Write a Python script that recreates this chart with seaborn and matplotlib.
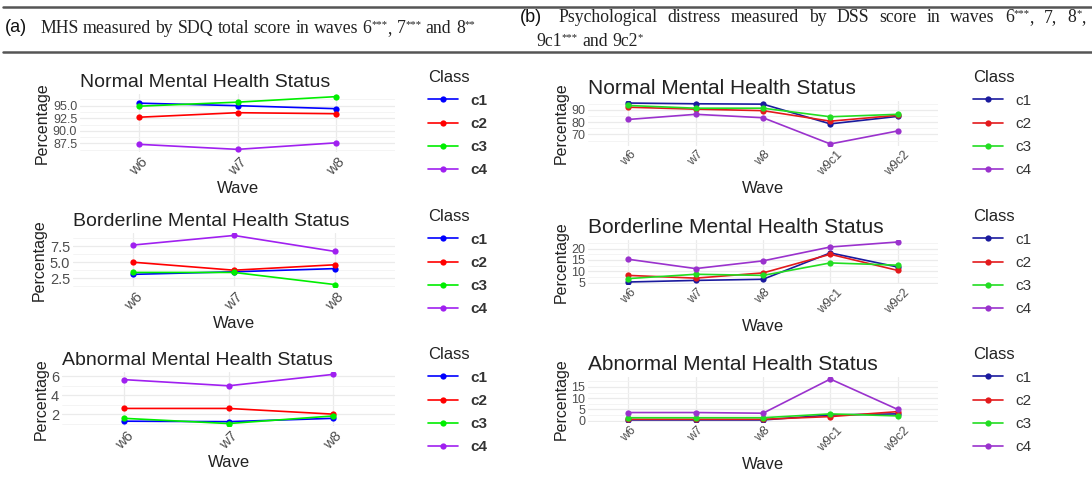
import numpy as np
import pandas as pd
import seaborn as sns
from matplotlib import pyplot as plt
from matplotlib.lines import Line2D
from matplotlib.ticker import AutoMinorLocator, FormatStrFormatter
from matplotlib.transforms import IdentityTransform

# data (percentages)
classes = ["c1", "c2", "c3", "c4"]
waves_a = ["w6", "w7", "w8"]
waves_b = ["w6", "w7", "w8", "w9c1", "w9c2"]

a_normal = [[95.5, 95.0, 94.4], [92.7, 93.6, 93.4], [94.9, 95.7, 96.8], [87.3, 86.3, 87.6]]
a_border = [[3.1, 3.5, 4.0], [5.0, 3.75, 4.6], [3.4, 3.4, 1.5], [7.7, 9.2, 6.7]]
a_abnormal = [[1.25, 1.2, 1.55], [2.6, 2.6, 2.0], [1.55, 1.0, 1.8], [5.65, 5.0, 6.2]]

b_normal = [
    [95.6, 95.0, 94.7, 78.6, 84.7],
    [92.2, 90.6, 89.4, 80.8, 85.6],
    [93.6, 91.4, 91.4, 84.4, 86.4],
    [82.2, 86.4, 83.6, 62.2, 72.8],
]
b_border = [
    [5.3, 6.0, 6.5, 18.1, 11.9],
    [8.2, 7.0, 9.3, 17.5, 10.4],
    [6.8, 8.7, 8.2, 13.7, 12.7],
    [15.3, 11.2, 14.6, 20.7, 22.9],
]
b_abnormal = [
    [0.3, 0.3, 0.3, 2.5, 3.0],
    [0.6, 0.6, 0.6, 1.8, 4.0],
    [1.3, 1.3, 1.3, 3.0, 2.1],
    [3.6, 3.6, 3.3, 18.5, 5.0],
]

titles = ["Normal Mental Health Status", "Borderline Mental Health Status", "Abnormal Mental Health Status"]
ticks_a = [[87.5, 90.0, 92.5, 95.0], [2.5, 5.0, 7.5], [2, 4, 6]]
ticks_b = [[70, 80, 90], [5, 10, 15, 20], [0, 5, 10, 15]]

colors_a = ["#0000ff", "#ff0000", "#00ee00", "#a020f0"]
colors_b = ["#1a1a9e", "#e31a1c", "#22dd22", "#9a32cd"]

W, H = 1092, 493
sns.set_theme(style="white")
plt.rcParams["font.family"] = ["Liberation Sans", "DejaVu Sans"]

fig = plt.figure(figsize=(W / 100, H / 100), dpi=100)
fig.patch.set_facecolor("white")


def px_axes(x0, x1, ytop, ybot):
    return fig.add_axes([x0 / W, 1 - ybot / H, (x1 - x0) / W, (ybot - ytop) / H])


def draw_panel(ax, waves, values, colors, ticks, fmt, title, title_size, tick_size, legend_at, bold):
    df = pd.DataFrame(
        {
            "Wave": waves * len(classes),
            "Percentage": sum(values, []),
            "Class": np.repeat(classes, len(waves)),
        }
    )
    sns.lineplot(
        data=df, x="Wave", y="Percentage", hue="Class", palette=colors,
        marker="o", markersize=4.5, markeredgewidth=0, linewidth=1.2,
        legend=False, sort=False, ax=ax,
    )
    ax.set_xlim(-0.6, len(waves) - 0.4)
    ax.set_yticks(ticks)
    ax.yaxis.set_minor_locator(AutoMinorLocator(2))
    ax.yaxis.set_major_formatter(FormatStrFormatter(fmt))
    ax.grid(which="major", color="#ebebeb", lw=0.9)
    ax.grid(which="minor", axis="y", color="#f3f3f3", lw=0.6)
    ax.set_axisbelow(True)
    for s in ax.spines.values():
        s.set_visible(False)
    ax.tick_params(which="both", length=0, labelsize=10.5 if bold else 9, labelcolor="#4d4d4d", pad=2)
    ax.tick_params(axis="y", labelsize=tick_size)
    for lab in ax.get_xticklabels():
        lab.set_rotation(45)
        lab.set_ha("center")
    ax.set_xlabel("Wave", fontsize=12, color="#222222", labelpad=2)
    ax.set_ylabel("Percentage", fontsize=11.5, color="#222222", labelpad=2)
    ax.set_title(title, loc="left", fontsize=title_size, color="#222222", pad=5)

    handles = [
        Line2D([], [], color=c, marker="o", markersize=4.5, markeredgewidth=0, lw=1.2)
        for c in colors
    ]
    leg = ax.legend(
        handles, classes, title="Class", loc="upper left",
        bbox_to_anchor=(legend_at[0] / W, 1 - legend_at[1] / H),
        bbox_transform=fig.transFigure, frameon=False, fontsize=11,
        title_fontsize=12, handlelength=2.0, handletextpad=0.8,
        labelspacing=0.6, borderpad=0.0, alignment="left",
    )
    leg.get_title().set_color("#222222")
    for t in leg.get_texts():
        t.set_color("#333333")
        if bold:
            t.set_fontweight("bold")


left_boxes = [(80, 395, 94, 152), (73, 395, 233, 287), (62, 395, 372, 426)]
right_boxes = [(588, 938, 101, 146), (588, 938, 240, 284), (588, 938, 377, 422)]
left_legends = [(420, 62), (420, 201), (420, 339)]
right_legends = [(965, 62), (965, 201), (965, 339)]
fmts_a = ["%.1f", "%.1f", "%g"]
ysize_a = [9, 10.5, 10.5]

for i, vals in enumerate([a_normal, a_border, a_abnormal]):
    ax = px_axes(*left_boxes[i])
    draw_panel(ax, waves_a, vals, colors_a, ticks_a[i], fmts_a[i], titles[i], 14, ysize_a[i], left_legends[i], True)

for i, vals in enumerate([b_normal, b_border, b_abnormal]):
    ax = px_axes(*right_boxes[i])
    draw_panel(ax, waves_b, vals, colors_b, ticks_b[i], "%g", titles[i], 15, 9, right_legends[i], False)

# header band
for yy in (7, 52):
    fig.add_artist(Line2D([3 / W, 1], [1 - yy / H, 1 - yy / H], transform=fig.transFigure, color="#555555", lw=1.8))

renderer = fig.canvas.get_renderer()


def header_line(words, x0, y, size, x1=None):
    # words: list of words, each a list of (text, superscript?)
    arts = []
    for word in words:
        pieces = []
        for txt, sup in word:
            t = fig.text(0, 0, txt, transform=IdentityTransform(), fontsize=size * 0.6 if sup else size,
                         family=["Liberation Serif", "DejaVu Serif"], color="#222222", va="baseline")
            pieces.append((t, sup))
        arts.append(pieces)
    widths = [sum(t.get_window_extent(renderer).width for t, _ in w) for w in arts]
    gap = size * 100 / 72 * 0.25
    if x1 is not None:
        gap = (x1 - x0 - sum(widths)) / (len(words) - 1)
    x = x0
    base = H - y
    for pieces, wdt in zip(arts, widths):
        xx = x
        for t, sup in pieces:
            t.set_position((xx, base + (size * 0.45 if sup else 0)))
            xx += t.get_window_extent(renderer).width
        x += wdt + gap


def plain_words(s):
    return [[(w, False)] for w in s.split()]


fig.text(5 / W, 1 - 28 / H, "(a)", fontsize=13, color="#111111", va="center", ha="left")
fig.text(520 / W, 1 - 18 / H, "(b)", fontsize=13, color="#111111", va="center", ha="left")

line_a = plain_words("MHS measured by SDQ total score in waves") + [
    [("6", False), ("***", True), (",", False)],
    [("7", False), ("***", True)],
    [("and", False)],
    [("8", False), ("**", True)],
]
header_line(line_a, 40, 33, 12.8)

line_b1 = plain_words("Psychological distress measured by DSS score in waves") + [
    [("6", False), ("***", True), (",", False)],
    [("7,", False)],
    [("8", False), ("*", True), (",", False)],
]
header_line(line_b1, 558, 22, 12.8, x1=1086)

line_b2 = [[("9c1", False), ("***", True)], [("and", False)], [("9c2", False), ("*", True)]]
header_line(line_b2, 536, 46, 12.8)

fig.savefig("out.png", dpi=100, facecolor="white")
